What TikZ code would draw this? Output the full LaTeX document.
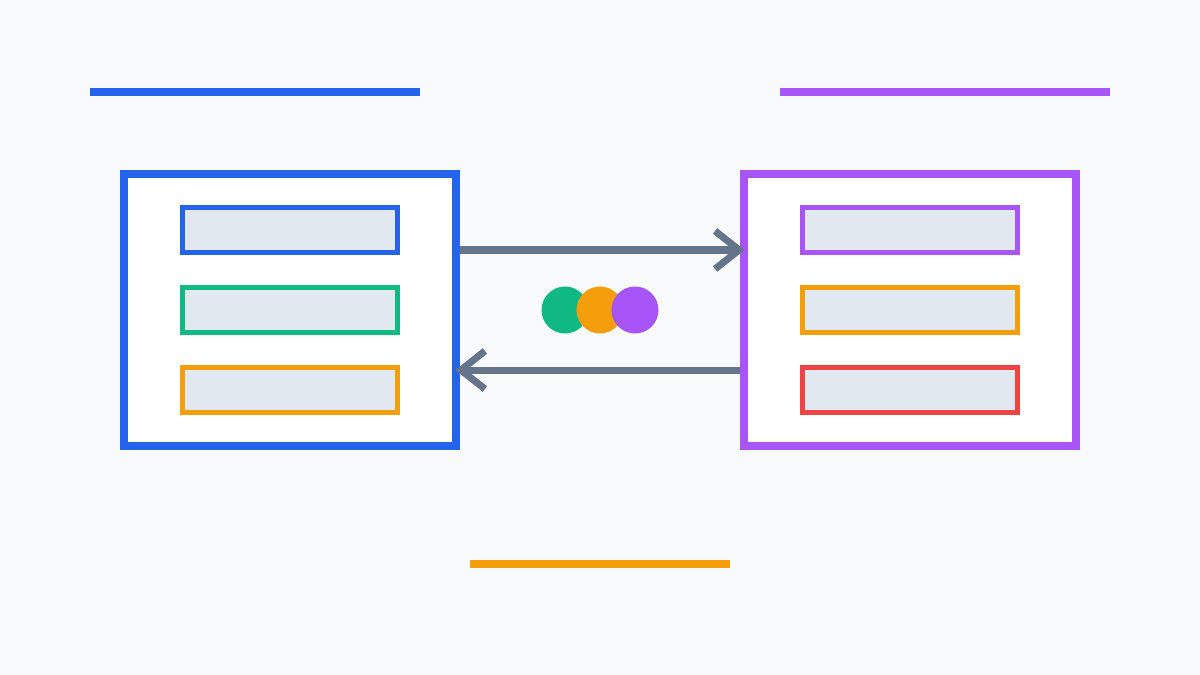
\documentclass[tikz,border=0pt]{standalone}
\usepackage{xcolor}
\usepackage{tikz}
\usetikzlibrary{arrows.meta, positioning, backgrounds}

\definecolor{bgcol}{HTML}{F8FAFC}
\definecolor{slot}{HTML}{E2E8F0}
\definecolor{cblue}{HTML}{2563EB}
\definecolor{cpurple}{HTML}{A855F7}
\definecolor{cgreen}{HTML}{10B981}
\definecolor{corange}{HTML}{F59E0B}
\definecolor{cred}{HTML}{EF4444}
\definecolor{cgray}{HTML}{64748B}

\begin{document}
\begin{tikzpicture}[
    x=0.025cm, y=-0.025cm,
    panel/.style={rectangle, draw=#1, line width=5.7pt, fill=white,
                  minimum width=8.3cm, minimum height=6.8cm, inner sep=0pt},
    field/.style={rectangle, draw=#1, line width=3.56pt, fill=slot,
                  minimum width=5.375cm, minimum height=1.125cm, inner sep=0pt},
    dot/.style={circle, fill=#1, minimum size=1.175cm, inner sep=0pt},
    bar/.style={line width=5.7pt, draw=#1},
    arr/.style={-{Straight Barb[sharp, length=0.6cm, width=0.95cm]},
                line width=5pt, cgray, shorten >=-0.12cm},
]

% Background and fixed frame
\fill[bgcol] (0,0) rectangle (1200,675);
\useasboundingbox (0,0) rectangle (1200,675);

% Header and footer bars
\draw[bar=cblue]   (90,92)  -- (420,92);
\draw[bar=cpurple] (780,92) -- (1110,92);
\draw[bar=corange] (470,564) -- (730,564);

% Left panel
\node[panel=cblue] (lp) at (290,310) {};
\node[field=cblue]   (l1) at (290,230) {};
\node[field=cgreen]  (l2) at (290,310) {};
\node[field=corange] (l3) at (290,390) {};

% Right panel
\node[panel=cpurple] (rp) at (910,310) {};
\node[field=cpurple] (r1) at (910,230) {};
\node[field=corange] (r2) at (910,310) {};
\node[field=cred]    (r3) at (910,390) {};

% Exchange arrows
\draw[arr] ([yshift=1.5cm]lp.east) -- ([yshift=1.5cm]rp.west);
\draw[arr] ([yshift=-1.5cm]rp.west) -- ([yshift=-1.5cm]lp.east);

% Middle dots
\node[dot=cgreen]  (d1) at (565,310) {};
\node[dot=corange] (d2) at (600,310) {};
\node[dot=cpurple] (d3) at (635,310) {};

\end{tikzpicture}
\end{document}
